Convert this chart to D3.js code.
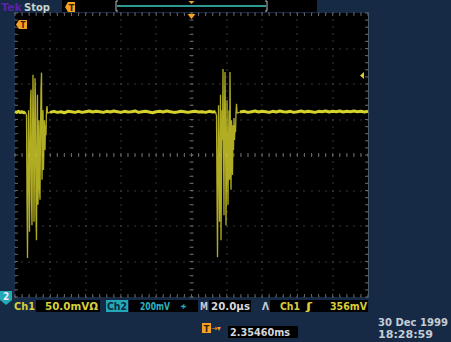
<!DOCTYPE html>
<html><head><meta charset="utf-8">
<script src="https://cdn.jsdelivr.net/npm/d3@7"></script>
<style>body{margin:0;background:#162a45;overflow:hidden} svg{display:block}</style>
</head><body>
<svg id="c" width="451" height="342"></svg>
<script>
// ---- data ----
const timeDomain = [0, 200];     // µs  (20.0 µs/div, 10 div)
const voltDomain = [-200, 200];  // mV  (50.0 mV/div, 8 div)
const xMajorStep = 20, xMinorStep = 4;
const yMajorStep = 50, yMinorStep = 10;
const triggerLevel = 112;        // mV, right-edge arrow
const triggerTime = 100;         // µs, top arrow

const baseA = [[0,61],[1,60],[2,61.5],[3,60],[4,61],[5,59.5],[5.7,61]];
const burst1 = [[6.52,56],[6.80,-63],[7.08,-145],[7.37,-35],[7.65,63],[7.93,7],[8.22,-108],[8.50,-21],[8.78,77],[9.07,92],[9.35,-63],[9.63,-99],[9.92,21],[10.20,113],[10.48,35],[10.77,-94],[11.05,-7],[11.33,108],[11.62,77],[11.90,-85],[12.18,-120],[12.47,7],[12.75,85],[13.03,-70],[13.32,-21],[13.60,49],[13.88,-49],[14.17,-63],[14.45,35],[14.73,92],[15.02,116],[15.30,-35],[15.58,7],[15.87,63],[16.15,-21],[16.43,21],[16.72,49],[17.00,7],[17.28,42],[17.57,28],[17.85,63],[18.13,69],[18.42,59]];
const baseB = [[19.8,60],[22,61.5],[24,60],[26,61],[28,59.5],[30,61.5],[32,61],[34,60],[36,61.5],[38,60],[40,61],[42,62],[44,60.5],[46,61.5],[48,61],[50,60],[52,61.5],[54,60.5],[56,62],[58,61],[60,60],[62,61.5],[64,60.5],[66,61],[68,62],[70,60],[72,61],[74,61.5],[76,60.5],[78,59.5],[80,61],[82,61.5],[84,60.5],[86,62],[88,61],[90,60],[92,60.5],[94,61.5],[96,61],[98,60],[100,61],[102,61.5],[104,60.5],[106,61],[108,60],[110,61.5],[112,60.5],[113.6,61]];
const burst2 = [[114.17,55],[114.45,-49],[114.74,-144],[115.02,-21],[115.30,70],[115.59,-7],[115.87,-94],[116.15,7],[116.44,85],[116.72,-120],[117.00,-35],[117.29,63],[117.57,21],[117.85,121],[118.14,7],[118.42,-85],[118.70,49],[118.99,117],[119.27,35],[119.55,-99],[119.84,-21],[120.12,77],[120.40,-7],[120.69,-70],[120.97,21],[121.25,63],[121.54,-35],[121.82,117],[122.10,7],[122.39,-49],[122.67,49],[122.95,21],[123.24,-28],[123.52,42],[123.80,7],[124.09,52],[124.37,21],[124.65,42],[124.94,32],[125.22,60],[125.50,72],[125.79,59]];
const baseC = [[127.5,60.5],[130,61.5],[132,60],[134,61],[136,62],[138,60.5],[140,61.5],[142,61],[144,60],[146,61.5],[148,60.5],[150,62],[152,61],[154,60.5],[156,61.5],[158,60],[160,61],[162,62],[164,60.5],[166,61.5],[168,61],[170,60],[172,61.5],[174,61],[176,62],[178,60.5],[180,61.5],[182,61],[184,62],[186,60.5],[188,61.5],[190,61],[192,62],[194,61],[196,61.5],[198,60.5],[200,61.5]];

const statusTop = [{text:"Tek", x:1, w:21, color:"#5a22a8"}, {text:"Stop", x:24, w:26, color:"#c6d6cc"}];
const readouts = [
  {text:"Ch1",     x:14,  w:21, color:"#d6cf3a"},
  {text:"50.0mVΩ", x:45,  w:53, color:"#d6cf3a", box:[36,100]},
  {text:"Ch2",     x:107, w:20, color:"#0c2a40", box:[106,128], boxFill:"#22a8b6"},
  {text:"200mV",   x:140, w:30, color:"#2ab4c2", box:[129,198]},
  {text:"≁",       x:180, w:7,  color:"#2ab4c2"},
  {text:"M",       x:200, w:8,  color:"#c4ccd4"},
  {text:"20.0µs",  x:211, w:39, color:"#d4d8dc", box:[209,251]},
  {text:"Λ",       x:262, w:7,  color:"#c4ccd4"},
  {text:"Ch1",     x:280, w:20, color:"#d6cf3a", box:[270,368]},
  {text:"ʃ",       x:306, w:6,  color:"#d6cf3a"},
  {text:"356mV",   x:330, w:37, color:"#d6cf3a"}
];
const delayText = "2.35460ms";
const dateLines = [{text:"30 Dec 1999", w:70}, {text:"18:28:59", w:55}];

// ---- drawing ----
const FONT = "DejaVu Sans Condensed, DejaVu Sans, sans-serif";
const svg = d3.select("#c");
const L=15, R=368, T=13, B=297;
const x = d3.scaleLinear().domain(timeDomain).range([L,R]);
const y = d3.scaleLinear().domain(voltDomain).range([B,T]);

svg.append("rect").attr("width",451).attr("height",342).attr("fill","#162a45");
svg.append("rect").attr("x",62).attr("y",0).attr("width",255).attr("height",12).attr("fill","#000");
svg.append("rect").attr("x",L).attr("y",T).attr("width",R-L).attr("height",B-T).attr("fill","#000");

const g = svg.append("g");
const xMaj = d3.range(timeDomain[0], timeDomain[1]+0.01, xMajorStep);
const yMaj = d3.range(voltDomain[0], voltDomain[1]+0.01, yMajorStep);
const xMin = d3.range(timeDomain[0], timeDomain[1]+0.01, xMinorStep);
const yMin = d3.range(voltDomain[0], voltDomain[1]+0.01, yMinorStep);
const dotC = "#6e6e6e";
xMaj.forEach(t=>{ yMin.forEach(v=>{
  g.append("rect").attr("x",Math.round(x(t))-0.5).attr("y",Math.round(y(v))-0.5).attr("width",1).attr("height",1).attr("fill",dotC);
});});
yMaj.forEach(v=>{ xMin.forEach(t=>{
  g.append("rect").attr("x",Math.round(x(t))-0.5).attr("y",Math.round(y(v))-0.5).attr("width",1).attr("height",1).attr("fill",dotC);
});});
const xc = x((timeDomain[0]+timeDomain[1])/2), yc = y(0);
const tickC = "#666";
xMin.forEach(t=>{
  g.append("line").attr("x1",x(t)).attr("x2",x(t)).attr("y1",yc-2).attr("y2",yc+2).attr("stroke",tickC);
  g.append("line").attr("x1",x(t)).attr("x2",x(t)).attr("y1",T).attr("y2",T+3).attr("stroke",tickC);
  g.append("line").attr("x1",x(t)).attr("x2",x(t)).attr("y1",B-3).attr("y2",B).attr("stroke",tickC);
});
yMin.forEach(v=>{
  g.append("line").attr("y1",y(v)).attr("y2",y(v)).attr("x1",xc-2).attr("x2",xc+2).attr("stroke",tickC);
  g.append("line").attr("y1",y(v)).attr("y2",y(v)).attr("x1",L).attr("x2",L+3).attr("stroke",tickC);
  g.append("line").attr("y1",y(v)).attr("y2",y(v)).attr("x1",R-3).attr("x2",R).attr("stroke",tickC);
});
svg.append("line").attr("x1",R+0.5).attr("x2",R+0.5).attr("y1",T).attr("y2",B).attr("stroke","#4a5a6a");

// trace
const line = d3.line().x(d=>x(d[0])).y(d=>y(d[1]));
[baseA, baseB, baseC].forEach(seg=>{
  svg.append("path").attr("d",line(seg)).attr("fill","none").attr("stroke","#d4d22c").attr("stroke-width",3).attr("stroke-linejoin","round");
});
[[baseA[baseA.length-1]].concat(burst1, [baseB[0]]), [baseB[baseB.length-1]].concat(burst2,[baseC[0]])].forEach(seg=>{
  svg.append("path").attr("d",line(seg)).attr("fill","none").attr("stroke","#cfca2a").attr("stroke-width",1.3).attr("stroke-opacity",0.85).attr("stroke-linejoin","bevel");
});

// markers
const orange="#f2a224";
function leftTab(px,py,w,h,fill,label,lc){
  svg.append("path").attr("d",`M${px},${py+h/2} L${px+3},${py} L${px+w},${py} L${px+w},${py+h} L${px+3},${py+h} Z`).attr("fill",fill);
  svg.append("text").attr("x",px+w/2+1.5).attr("y",py+h-1.5).attr("text-anchor","middle").attr("font-family",FONT).attr("font-weight","bold").attr("font-size",h-1).attr("fill",lc).text(label);
}
leftTab(65,2,10,10,orange,"T","#3a2000");
leftTab(16,20,11,9,orange,"T","#3a2000");
svg.append("path").attr("d",`M${x(triggerTime)-4},${T+1} L${x(triggerTime)+4},${T+1} L${x(triggerTime)},${T+6} Z`).attr("fill",orange);
// record bar
svg.append("path").attr("d","M118,1 L116,1 L116,11 L118,11").attr("fill","none").attr("stroke","#b8c0c0");
svg.append("path").attr("d","M265,1 L267,1 L267,11 L265,11").attr("fill","none").attr("stroke","#b8c0c0");
svg.append("rect").attr("x",117).attr("y",5).attr("width",149).attr("height",2).attr("fill","#2a9a92");
svg.append("path").attr("d",`M${x(triggerTime)-3},1 L${x(triggerTime)+3},1 L${x(triggerTime)},4 Z`).attr("fill",orange);
svg.append("path").attr("d",`M${R-8},${y(triggerLevel)} L${R-4},${y(triggerLevel)-3.5} L${R-4},${y(triggerLevel)+3.5} Z`).attr("fill","#d8cc30");

function txt(s, x0, y0, w, color, size){
  const t = svg.append("text").attr("x",x0).attr("y",y0).attr("font-family",FONT).attr("font-weight","bold").attr("font-size",size||11).attr("fill",color).text(s);
  if(w) t.attr("textLength",w).attr("lengthAdjust","spacingAndGlyphs");
  return t;
}
statusTop.forEach(s=>txt(s.text, s.x, 11, s.w, s.color));

// ch2 marker
svg.append("path").attr("d","M0,291 L12,291 L12,300 L6,305 L0,300 Z").attr("fill","#22a8b6");
txt("2", 3, 300, null, "#eef", 10);

readouts.forEach(r=>{
  if(r.box) svg.append("rect").attr("x",r.box[0]).attr("y",300).attr("width",r.box[1]-r.box[0]).attr("height",12).attr("fill",r.boxFill||"#000");
});
readouts.forEach(r=>txt(r.text, r.x, 310, r.w, r.color));

svg.append("rect").attr("x",202).attr("y",323).attr("width",9).attr("height",10).attr("fill",orange);
svg.append("text").attr("x",206.5).attr("y",332).attr("text-anchor","middle").attr("font-family",FONT).attr("font-weight","bold").attr("font-size",9).attr("fill","#3a2000").text("T");
svg.append("text").attr("x",211).attr("y",331).attr("font-family",FONT).attr("font-size",8).attr("fill",orange).text("→▾");
svg.append("rect").attr("x",228).attr("y",326).attr("width",70).attr("height",12).attr("fill","#000");
txt(delayText, 230, 336, 60, "#d4d8dc");
dateLines.forEach((s,i)=>txt(s.text, 378, 326+i*12, s.w, "#c4ccd4"));
</script>
</body></html>
